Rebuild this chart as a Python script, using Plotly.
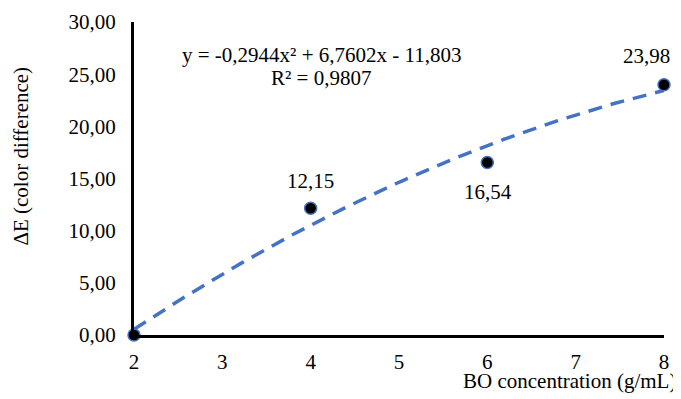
import numpy as np
import plotly.graph_objects as go

conc = [2, 4, 6, 8]
delta_e = [0.0, 12.15, 16.54, 23.98]
labels = ["", "12,15", "16,54", "23,98"]
# trendline coefficients as shown on the chart
a2, a1, a0 = -0.2944, 6.7602, -11.803

xs = np.linspace(2, 8, 120)
ys = a2 * xs**2 + a1 * xs + a0

FONT = "Liberation Serif, Times New Roman, serif"
FS = 21
# label placement (pixel shifts)
label_shift = {"12,15": (0, 27), "16,54": (1, -30), "23,98": (-18, 29)}

fig = go.Figure()
fig.add_trace(go.Scatter(x=xs, y=ys, mode="lines",
                         line=dict(color="#4472C4", width=3.5, dash="14px,9px"),
                         hoverinfo="skip", showlegend=False, cliponaxis=False))
fig.add_trace(go.Scatter(x=conc, y=delta_e, mode="markers",
                         marker=dict(color="black", size=12,
                                     line=dict(color="#4472C4", width=1.5)),
                         showlegend=False, cliponaxis=False))

for xv, yv, lab in zip(conc, delta_e, labels):
    if not lab:
        continue
    dx, dy = label_shift[lab]
    fig.add_annotation(x=xv, y=yv, xref="x", yref="y", text=lab, showarrow=False,
                       xanchor="center", yanchor="middle", xshift=dx, yshift=dy,
                       font=dict(family=FONT, size=FS, color="black"))

fig.add_annotation(x=4.117, y=26.84, xref="x", yref="y",
                   text="y = -0,2944x² + 6,7602x - 11,803",
                   showarrow=False, xanchor="center", yanchor="middle",
                   font=dict(family=FONT, size=FS, color="black"))
fig.add_annotation(x=4.117, y=24.63, xref="x", yref="y",
                   text="R² = 0,9807",
                   showarrow=False, xanchor="center", yanchor="middle",
                   font=dict(family=FONT, size=FS, color="black"))

# axis titles
fig.add_annotation(x=1, y=0, xref="paper", yref="paper", xanchor="right",
                   yanchor="middle", yshift=-46, xshift=14,
                   text="BO concentration (g/mL)", showarrow=False,
                   font=dict(family=FONT, size=FS, color="black"))
fig.add_annotation(x=0, y=0.57, xref="paper", yref="paper", xanchor="center",
                   yanchor="middle", xshift=-113, textangle=-90,
                   text="ΔE (color difference)", showarrow=False,
                   font=dict(family=FONT, size=FS, color="black"))

# page body has an 8px margin, so the figure is offset by 8px
fig.update_layout(
    width=673, height=391,
    margin=dict(l=126, r=17, t=14, b=64, autoexpand=False),
    paper_bgcolor="white", plot_bgcolor="white",
    separators=",.",
    font=dict(family=FONT, size=FS, color="black"),
    xaxis=dict(range=[2, 8], dtick=1, showgrid=False, zeroline=False,
               showline=True, linecolor="black", linewidth=3,
               ticks="", tickfont=dict(family=FONT, size=FS),
               ticklabelstandoff=6),
    yaxis=dict(range=[0, 30], dtick=5, tickformat=".2f", showgrid=False,
               zeroline=False, showline=True, linecolor="black", linewidth=3,
               ticks="", tickfont=dict(family=FONT, size=FS), ticklabelstandoff=11),
)

fig.write_html("out.html")
